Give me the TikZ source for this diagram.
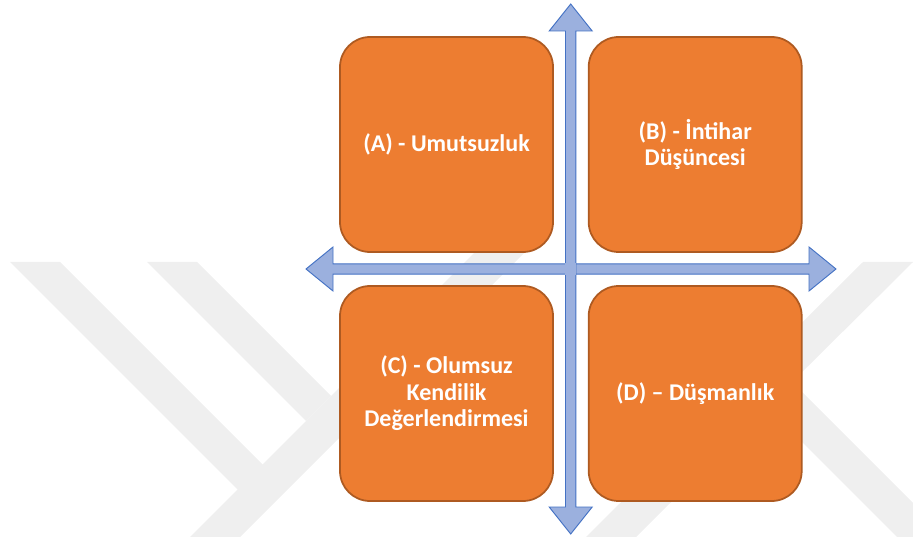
\documentclass[tikz,border=0pt]{standalone}
\usepackage{fontspec}
\setmainfont{Carlito}
\usepackage{xcolor}
\definecolor{boxfill}{RGB}{237,125,49}
\definecolor{boxline}{RGB}{174,90,33}
\definecolor{axisfill}{RGB}{155,176,222}
\definecolor{axisline}{RGB}{68,114,196}
\definecolor{markgray}{RGB}{239,239,239}

\begin{document}
\begin{tikzpicture}[x=0.03cm, y=-0.03cm]
		\tikzstyle{every node}=[font=\fontsize{20.5}{22.6}\selectfont\bfseries]
		\tikzstyle{quad}=[rectangle, rounded corners=0.9cm, fill=boxfill, draw=boxline, line width=1.5pt, minimum width=6.39cm, minimum height=6.45cm, text=white, align=center]
		\tikzstyle{axis}=[fill=axisfill, draw=axisline, line width=0.8pt, line join=miter]
		\useasboundingbox (0,0) rectangle (913,537);
		% faint bands in the background
		\fill [markgray] (10,262) -- (60,262) -- (263,465) -- (238,490) -- cycle;
		\fill [markgray] (147,262) -- (197,262) -- (331,396) -- (306,421) -- cycle;
		\fill [markgray] (190,537) -- (240,537) -- (547,230) -- (497,230) -- cycle;
		\fill [markgray] (863,262) -- (913,262) -- (636,537) -- (586,537) -- cycle;
		\fill [markgray] (766,406) -- (791,381) -- (913,503) -- (913,537) -- (897,537) -- cycle;
		% horizontal and vertical axes
		\draw [axis] (306,269) -- (333,247) -- (333,263.8) -- (809,263.8) -- (809,247) -- (836,269) -- (809,291) -- (809,274.2) -- (333,274.2) -- (333,291) -- cycle;
		\draw [axis] (570.7,4) -- (592.2,31) -- (575.9,31) -- (575.9,507) -- (592.2,507) -- (570.7,534) -- (549.2,507) -- (565.5,507) -- (565.5,31) -- (549.2,31) -- cycle;
		\fill [axisfill] (565,263.3) rectangle (576.4,274.7);
		% the four quadrants
		\node [quad] (umut) at (446.5,144.5) {(A) - Umutsuzluk};
		\node [quad] (intihar) at (695.2,144.5) {(B) - İntihar\\Düşüncesi};
		\node [quad] (olumsuz) at (446.5,393.5) {(C) - Olumsuz\\Kendilik\\Değerlendirmesi};
		\node [quad] (dusman) at (695.2,393.5) {(D) – Düşmanlık};
\end{tikzpicture}
\end{document}
